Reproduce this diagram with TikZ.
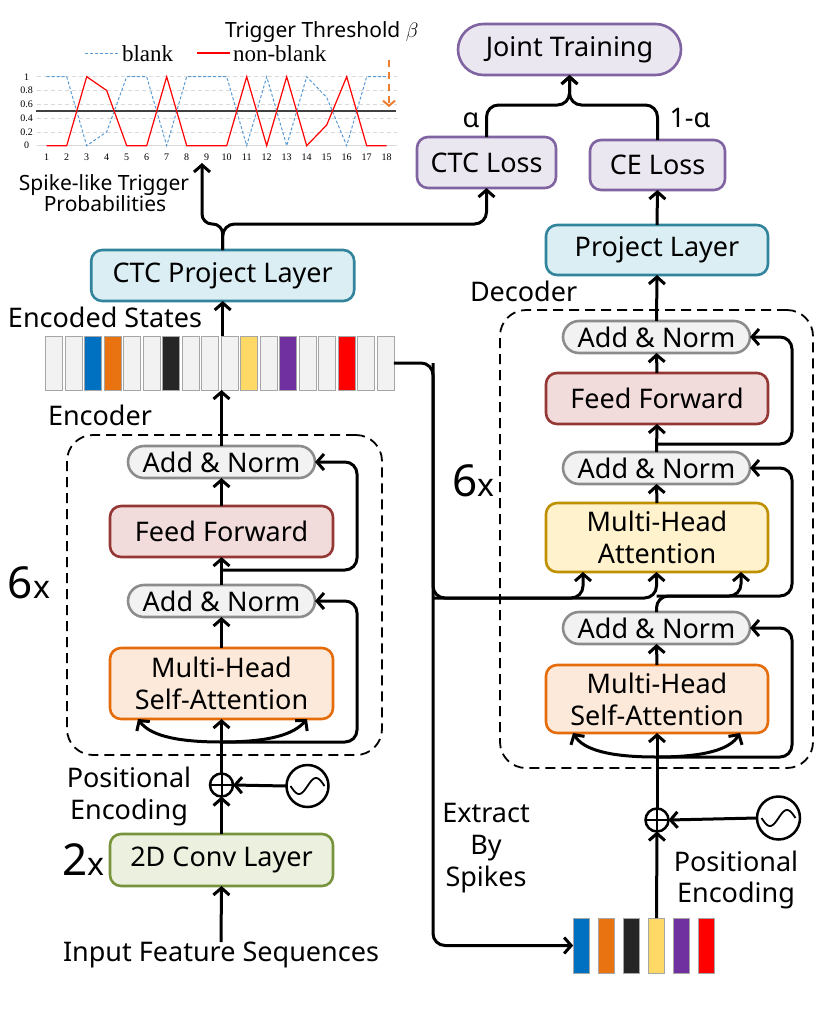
\documentclass[tikz,border=0pt]{standalone}
\usepackage{fontspec}
\setmainfont{Noto Sans}
\newfontfamily\chartfont{Liberation Serif}
\usetikzlibrary{arrows.meta,shapes.misc,calc}

\definecolor{purpB}{HTML}{8064A2}
\definecolor{purpF}{HTML}{EBE7F1}
\definecolor{tealB}{HTML}{31849B}
\definecolor{tealF}{HTML}{DAEEF3}
\definecolor{redB}{HTML}{953735}
\definecolor{redF}{HTML}{F2DCDB}
\definecolor{orB}{HTML}{E46C0A}
\definecolor{orF}{HTML}{FDE9D9}
\definecolor{goldB}{HTML}{BF9000}
\definecolor{goldF}{HTML}{FFF2CC}
\definecolor{grnB}{HTML}{77933C}
\definecolor{grnF}{HTML}{EBF1DE}
\definecolor{grayB}{HTML}{8C8C8C}
\definecolor{grayF}{HTML}{F2F2F2}
\definecolor{cellB}{HTML}{A6A6A6}
\definecolor{cBlue}{HTML}{0070C0}
\definecolor{cOrange}{HTML}{E97211}
\definecolor{cBlack}{HTML}{262626}
\definecolor{cYellow}{HTML}{FFD966}
\definecolor{cPurple}{HTML}{7030A0}
\definecolor{cRed}{HTML}{FF0000}
\definecolor{chBlue}{HTML}{5B9BD5}
\definecolor{chGrid}{HTML}{D9D9D9}
\definecolor{thrOr}{HTML}{ED7D31}

\newcommand\fBox{\fontsize{27}{32}\selectfont}
\newcommand\fLab{\fontsize{27}{32}\selectfont}
\newcommand\fSm{\fontsize{21}{23}\selectfont}

\tikzset{
  every node/.style={inner sep=0pt, outer sep=0pt},
  blk/.style={draw, line width=2.6pt, rounded corners=11pt, align=center, font=\fBox},
  pill/.style={rounded rectangle, draw=grayB, fill=grayF, line width=2.6pt, font=\fBox, minimum width=187pt, minimum height=32pt},
  lab/.style={font=\fLab, anchor=base},
  ln/.style={line width=3pt, rounded corners=12pt},
  arr/.style={ln, -{Straight Barb[length=7pt,width=16pt]}},
  cellg/.style={draw=cellB, fill=grayF, line width=0.8pt, minimum width=16.7pt, minimum height=54pt},
  cellc/.style={draw=cellB, fill=#1, line width=0.8pt, minimum width=16.7pt, minimum height=54pt},
  dbox/.style={draw, line width=1.8pt, dash pattern=on 10pt off 6pt, rounded corners=26pt},
}

\begin{document}
\begin{tikzpicture}[x=1pt,y=-1pt]
\path[use as bounding box] (0,0) rectangle (830,1010);

% ---------------- chart ----------------
\begin{scope}[shift={(26.7,145.7)}, x=20pt, y=69pt]
  \foreach \v in {0.2,0.4,0.6,0.8,1} {
    \draw[chGrid, line width=0.8pt, dash pattern=on 4pt off 3pt] (0.5,\v) -- (18.5,\v);
  }
  \draw[chGrid, line width=1pt] (0.5,0) -- (18.5,0);
  \draw[black!75, line width=1.6pt] (0.47,0.5) -- (18.47,0.5);
  \draw[chBlue, line width=1pt, dash pattern=on 3pt off 2pt] plot coordinates {(1,1) (2,1) (3,0) (4,0.2) (5,1) (6,1) (7,0) (8,1) (9,1) (10,1) (11,0) (12,1) (13,0) (14,1) (15,0.7) (16,0) (17,1) (18,1)};
  \draw[cRed, line width=1.2pt] plot coordinates {(1,0) (2,0) (3,1) (4,0.8) (5,0) (6,0) (7,1) (8,0) (9,0) (10,0) (11,1) (12,0) (13,1) (14,0) (15,0.3) (16,1) (17,0) (18,0)};
  \foreach \v/\t in {0/0,0.2/0.2,0.4/0.4,0.6/0.6,0.8/0.8,1/1} {
    \node[font=\chartfont\fontsize{10}{12}\selectfont] at (0,\v) {\t};
  }
  \foreach \k in {1,...,18} {
    \node[font=\chartfont\fontsize{10}{12}\selectfont] at (\k,-0.165) {\k};
  }
\end{scope}
% legend
\draw[chBlue, line width=1pt, dash pattern=on 3pt off 2pt] (85,53) -- (120,53);
\node[font=\chartfont\fontsize{23}{26}\selectfont, anchor=base west] (lgb) at (122,61.7) {blank};
\draw[cRed, line width=1.2pt] (197,53) -- (230,53);
\node[font=\chartfont\fontsize{23}{26}\selectfont, anchor=base west] (lgn) at (233,61.7) {non-blank};
% threshold
\node[font=\fSm, anchor=base west] (thr) at (225,37.3) {Trigger Threshold $\beta$};
\coordinate (thrA) at (389,60);
\coordinate (thrB) at (389,107);
\draw[thrOr, line width=2pt, dash pattern=on 7pt off 5pt, -{Straight Barb[length=5pt,width=12pt]}] (thrA) -- (thrB);
\node[font=\fSm, anchor=base] (sp1) at (104,190) {Spike-like Trigger};
\node[font=\fSm, anchor=base] (sp2) at (105,211.7) {Probabilities};
\coordinate (chartin) at (202,163);

% ---------------- top ----------------
\node[rounded rectangle, draw=purpB, fill=purpF, line width=2.6pt, font=\fBox, minimum width=223pt, minimum height=51pt] (jt) at (569.5,49.5) {Joint Training};
\node[blk, draw=purpB, fill=purpF, minimum width=139pt, minimum height=51pt] (ctcl) at (486.5,162.5) {CTC Loss};
\node[blk, draw=purpB, fill=purpF, minimum width=135pt, minimum height=50pt] (cel) at (657.5,165) {CE Loss};
\node[lab] (alpha) at (471,127.5) {α};
\node[lab] (oma) at (690,127.5) {1-α};
\coordinate (jy) at (570,105);
\draw[arr] (ctcl.north) -- (ctcl.north |- jy) -- (jt.south |- jy) -- (jt.south);
\draw[arr] (cel.north) -- (cel.north |- jy) -- (jt.south |- jy) -- (jt.south);

\node[blk, draw=tealB, fill=tealF, minimum width=263pt, minimum height=51pt] (ctcp) at (222.7,275.5) {CTC Project Layer};
\node[blk, draw=tealB, fill=tealF, minimum width=222pt, minimum height=50pt] (pl) at (657,250) {Project Layer};
\coordinate (sy) at (0,224);
\draw[arr, rounded corners=10pt] (ctcp.north) -- (ctcp.north |- sy) -- (chartin |- sy) -- (chartin);
\draw[arr] (ctcp.north) -- (ctcp.north |- sy) -- (ctcl.south |- sy) -- (ctcl.south);
\draw[arr] (pl.north) -- (cel.south);

% ---------------- encoded states ----------------
\node[lab, anchor=base west] (encs) at (8,327.3) {Encoded States};
\foreach \i in {1,...,18} {
  \node[cellg] (c\i) at ({54.05+(\i-1)*19.5},363) {};
}
\node[cellc=cBlue] at (c3) {};
\node[cellc=cOrange] at (c4) {};
\node[cellc=cBlack] at (c7) {};
\node[cellc=cYellow] at (c11) {};
\node[cellc=cPurple] at (c13) {};
\node[cellc=cRed] at (c16) {};
\draw[arr] (ctcp.south |- c10.north) -- (ctcp.south);

% ---------------- encoder ----------------
\node[lab, anchor=base west] (enclab) at (48,425) {Encoder};
\node[dbox, minimum width=315pt, minimum height=320pt] (encbox) at (224.5,595) {};
\node[pill] (ean1) at (221.5,462) {Add \& Norm};
\node[blk, draw=redB, fill=redF, minimum width=223pt, minimum height=51pt] (eff) at (221.5,531.5) {Feed Forward};
\node[pill] (ean2) at (221.5,601) {Add \& Norm};
\node[blk, draw=orB, fill=orF, minimum width=223pt, minimum height=71pt] (emh) at (221.5,683.5) {Multi-Head\\Self-Attention};
\node[anchor=base west] (e6x) at (8,598) {\fontsize{44}{44}\selectfont 6\fontsize{32}{32}\selectfont x};

\draw[arr] (ean1.north) -- (ean1.north |- c10.south);
\draw[arr] (eff.north) -- (ean1.south);
\draw[arr] (ean2.north) -- (eff.south);
\draw[arr] (emh.north) -- (ean2.south);
\coordinate (fb) at (221.5,570);
\coordinate (fr) at (357,570);
\draw[arr] (fb) -- (fr) -- (fr |- ean1) -- (ean1.east);
\coordinate (eb) at (221.5,742);
\coordinate (er) at (357,742);
\coordinate (eal) at (138,719);
\coordinate (ear) at (307,719);
\draw[arr] (eb) -- (er) -- (er |- ean2) -- (ean2.east);
\draw[arr] (eb) .. controls (172,742) and (149,734) .. (eal);
\draw[arr] (eb) .. controls (271,742) and (294,734) .. (ear);

\node[circle, draw, line width=2.5pt, minimum size=23pt] (eplus) at (221.5,785) {};
\draw[line width=2pt] (eplus.west) -- (eplus.east) (eplus.north) -- (eplus.south);
\node[circle, draw, line width=2.5pt, minimum size=42pt] (esin) at (307.5,786) {};
\draw[line width=1.8pt] plot[domain=-1:1, samples=40, smooth] ({307.5+17*\x}, {786-8*sin(\x*180)});
\node[lab] (pe1) at (129,787.7) {Positional};
\node[lab] (pe2) at (129,819.5) {Encoding};
\draw[arr] (eplus.north) -- (emh.south);
\draw[arr] (esin.west) -- (eplus.east);

\node[blk, draw=grnB, fill=grnF, minimum width=223pt, minimum height=52pt] (conv) at (221.5,860) {2D Conv Layer};
\node[anchor=base west] (two) at (62,875) {\fontsize{44}{44}\selectfont 2\fontsize{32}{32}\selectfont x};
\draw[arr] (conv.north) -- (eplus.south);
\node[lab] (inp) at (221,961.7) {Input Feature Sequences};
\draw[arr] (inp.north) -- (conv.south);

% ---------------- decoder ----------------
\node[lab, anchor=base west] (declab) at (470,301) {Decoder};
\node[dbox, minimum width=313pt, minimum height=458pt] (decbox) at (656.5,539) {};
\node[pill] (dan1) at (656.5,337) {Add \& Norm};
\node[blk, draw=redB, fill=redF, minimum width=222pt, minimum height=51pt] (dff) at (657,398.5) {Feed Forward};
\node[pill] (dan2) at (656.5,468) {Add \& Norm};
\node[blk, draw=goldB, fill=goldF, minimum width=222pt, minimum height=69pt] (dmha) at (657,537.5) {Multi-Head\\Attention};
\node[pill] (dan3) at (656.5,628) {Add \& Norm};
\node[blk, draw=orB, fill=orF, minimum width=222pt, minimum height=68pt] (dmhs) at (657,699) {Multi-Head\\Self-Attention};
\node[anchor=base west] (d6x) at (452,496.7) {\fontsize{44}{44}\selectfont 6\fontsize{32}{32}\selectfont x};

\draw[arr] (dan1.north) -- (pl.south);
\draw[arr] (dff.north) -- (dan1.south);
\draw[arr] (dan2.north) -- (dff.south);
\draw[arr] (dmha.north) -- (dan2.south);
\draw[arr] (dmhs.north) -- (dan3.south);
\coordinate (dfb) at (656.5,444);
\coordinate (dfr) at (792,444);
\draw[arr] (dfb) -- (dfr) -- (dfr |- dan1) -- (dan1.east);
\coordinate (d3y) at (656.5,596);
\coordinate (d3r) at (792,596);
\coordinate (dvr) at (741,572);
\draw[arr] (dan3.north) -- (d3y) -- (d3r) -- (d3r |- dan2) -- (dan2.east);
\draw[arr] (d3y) -- (dvr |- d3y) -- (dvr);
\coordinate (db) at (656.5,757);
\coordinate (dr) at (792,757);
\coordinate (dal) at (573,733);
\coordinate (dar) at (740,733);
\draw[arr] (db) -- (dr) -- (dr |- dan3) -- (dan3.east);
\draw[arr] (db) .. controls (607,757) and (583,749) .. (dal);
\draw[arr] (db) .. controls (706,757) and (730,749) .. (dar);

\node[circle, draw, line width=2.5pt, minimum size=23pt] (dplus) at (657,820) {};
\draw[line width=2pt] (dplus.west) -- (dplus.east) (dplus.north) -- (dplus.south);
\node[circle, draw, line width=2.5pt, minimum size=43pt] (dsin) at (778.5,818) {};
\draw[line width=1.8pt] plot[domain=-1:1, samples=40, smooth] ({778.5+17*\x}, {818-8*sin(\x*180)});
\draw[arr] (dplus.north) -- (dmhs.south);
\draw[arr] (dsin.west) -- (dplus.east);
\node[lab] (pd1) at (736,871) {Positional};
\node[lab] (pd2) at (736,902.7) {Encoding};

% spikes
\foreach \i/\c in {1/cBlue,2/cOrange,3/cBlack,4/cYellow,5/cPurple,6/cRed} {
  \node[cellc=\c, minimum height=55pt] (s\i) at ({581.5+(\i-1)*25},945.5) {};
}
\draw[arr] (s4.north) -- (dplus.south);
\node[lab] (ex1) at (486,822.7) {Extract};
\node[lab] (ex2) at (486,854) {By};
\node[lab] (ex3) at (486,886) {Spikes};

% encoder states to decoder
\coordinate (kx) at (433,363);
\coordinate (ky) at (433,598);
\coordinate (kk) at (583,572);
\coordinate (kv) at (656.5,572);
\draw[arr] (c18.east) -- (kx) -- (ky) -- (kk |- ky) -- (kk);
\draw[arr] (ky) -- (kv |- ky) -- (kv);
\draw[arr] (kx) -- (kx |- s1) -- (s1.west);
\end{tikzpicture}
\end{document}
